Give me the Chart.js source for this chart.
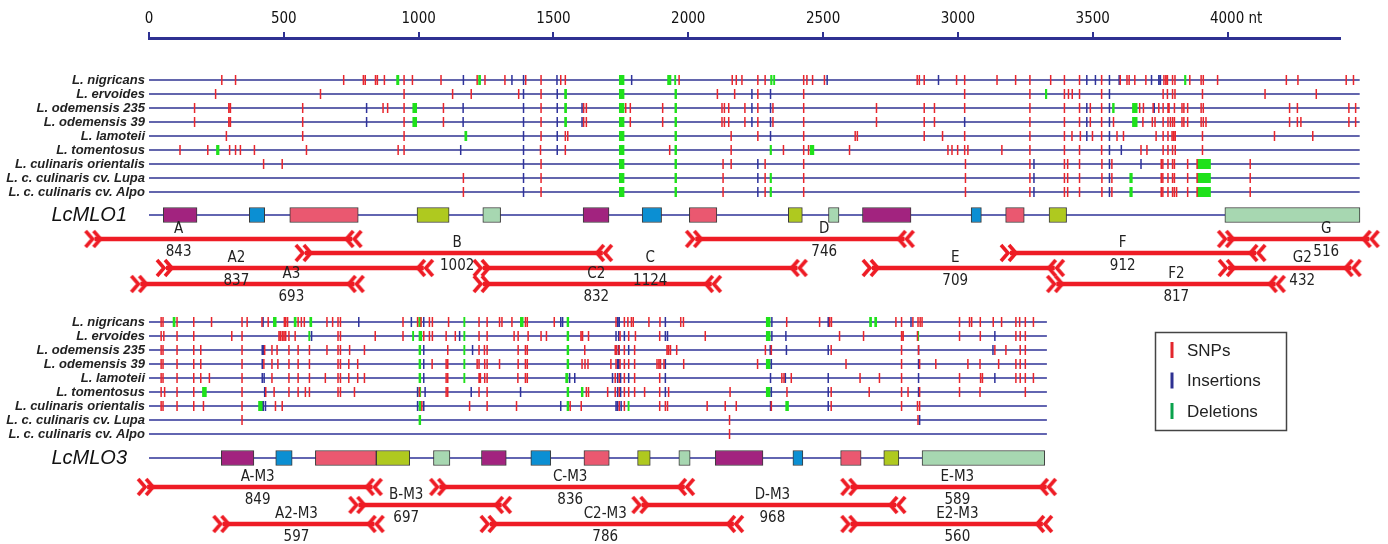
<!DOCTYPE html>
<html>
<head>
<meta charset="utf-8">
<script src="https://cdn.jsdelivr.net/npm/chart.js@4.4.1/dist/chart.umd.min.js"></script>
<style>
  html, body { margin: 0; padding: 0; background: #fff; }
  #wrap { width: 1388px; height: 544px; position: relative; }
</style>
</head>
<body>
<div id="wrap"><canvas id="myChart"></canvas></div>
<script>
// Row labels, top to bottom (same order in both panels)
var species = ['L. nigricans', 'L. ervoides', 'L. odemensis 235', 'L. odemensis 39', 'L. lamoteii',
  'L. tomentosus', 'L. culinaris orientalis', 'L. c. culinaris cv. Lupa', 'L. c. culinaris cv. Alpo'];
// Ticks of the nucleotide ruler
var rulerTicks = [0, 500, 1000, 1500, 2000, 2500, 3000, 3500, 4000];

// ---- LcMLO1 ----
var mlo1Length = 4490;
var mlo1Snps = [
  [270,321,722,795,802,840,847,873,946,977,1083,1217,1246,1320,1397,1454,1527,1544,1966,2163,2178,2199,2258,2285,2428,2440,2461,2505,2849,2857,2875,2995,3025,3145,3214,3267,3344,3395,3451,3533,3602,3627,3635,3656,3697,3764,3771,3777,3796,3805,3860,3902,3910,3963,4218,4261,4440,4467],
  [247,636,946,1126,1195,1371,1454,2108,2172,2258,2428,3025,3267,3395,3410,3424,3451,3533,3761,3777,3796,3805,3907,4139,4329],
  [169,296,302,570,868,885,946,1092,1454,1612,1622,1768,1785,1905,2125,2134,2150,2210,2258,2314,2428,2698,2875,2913,3025,3267,3395,3451,3491,3533,3674,3688,3724,3745,3761,3779,3783,3803,3831,3838,3852,3902,3910,4230,4259,4450,4475],
  [169,296,302,570,946,1092,1454,1612,1622,1785,1905,2125,2134,2150,2210,2258,2314,2428,2698,2875,2913,3267,3395,3451,3491,3533,3577,3686,3721,3731,3761,3779,3788,3796,3803,3831,3838,3852,3902,3910,3920,4230,4259,4272,4450,4475],
  [287,570,946,1454,1544,1553,2159,2258,2428,2619,2627,2875,2943,3025,3267,3395,3423,3454,3499,3533,3590,3614,3735,3761,3779,3794,3800,3806,3907,4174,4316],
  [115,218,299,321,339,391,584,924,946,1452,1544,1931,2159,2353,2428,2446,2598,2963,2978,2999,3025,3037,3163,3267,3395,3451,3533,3679,3701,3761,3779,3796,3806,3907],
  [425,494,1454,2129,2159,2285,2428,3028,3267,3395,3407,3451,3534,3571,3754,3760,3779,3796,3803,3852,3887,4084],
  [1166,1454,2129,2285,2428,3028,3267,3395,3407,3451,3534,3571,3754,3760,3779,3796,3803,3852,3887,4084],
  [1166,1454,2129,2285,2428,3028,3267,3395,3407,3451,3534,3571,3754,3760,3779,3796,3803,3811,3852,3887,4084]
];
var mlo1Ins = [
  [1166,1346,1389,1513,1790,2515,2928,3478,3510,3562,3598,3718,3745,3751],
  [1389,1514,2236,2305,3562],
  [807,1165,1389,1514,1606,2236,2305,3478,3562,3728],
  [807,1165,1389,1514,1606,2236,2305,3025,3478,3562],
  [1389,1514,2305,3478,3562],
  [1156,1389,1514,3562,3606],
  [1389,2258,3282,3562,3679],
  [1389,2258,3282,3562],
  [1389,2258,3282,3562]
];
var mlo1Del = [
  [[917,928],[1221,1231],[1743,1763],[1922,1937],[1948,1955],[2304,2312],[2315,2322],[3839,3847]],
  [[1540,1550],[1743,1763],[1949,1958],[3323,3331]],
  [[977,994],[1540,1550],[1743,1763],[1949,1958],[3572,3581],[3646,3666]],
  [[977,994],[1540,1550],[1743,1763],[1949,1958],[3646,3666]],
  [[1170,1180],[1743,1763],[1949,1958]],
  [[249,261],[1743,1763],[1949,1958],[2302,2310],[2451,2467]],
  [[1743,1763],[1949,1958],[3887,3938]],
  [[1743,1763],[1949,1958],[2302,2310],[3636,3648],[3887,3938]],
  [[1743,1763],[1949,1958],[2302,2310],[3636,3648],[3887,3938]]
];
var mlo1ExonStart = [53,372,522,994,1238,1610,1829,2004,2371,2520,2646,3049,3177,3338,3990];
var mlo1ExonEnd = [178,429,776,1113,1304,1706,1901,2106,2423,2559,2826,3087,3246,3403,4491];
var mlo1Amplicons = ['A','B','A2','A3','C','C2','D','E','F','F2','G','G2'];
var mlo1AmpStart = [-202,578,63,-32,1238,1238,2026,2681,3193,3365,3999,4002];
var mlo1AmpEnd = [754,1683,1019,762,2405,2087,2802,3359,4106,4178,4526,4459];
var mlo1AmpSize = [843,1002,837,693,1124,832,746,709,912,817,516,432];
var mlo1AmpLabelAt = [110,1143,324,528,1859,1659,2504,2990,3611,3810,4366,4277];

// ---- LcMLO3 ----
var mlo3Length = 3330;
var mlo3Snps = [
  [45,52,104,166,232,345,364,419,442,502,507,514,553,565,576,660,681,701,710,942,996,1009,1040,1051,1111,1224,1254,1300,1309,1346,1396,1403,1503,1732,1763,1776,1789,1796,1854,1895,1972,1982,2365,2487,2524,2531,2770,2791,2833,2852,2860,2867,3006,3043,3051,3083,3131,3162,3215,3229,3250,3280],
  [45,55,104,166,307,345,482,488,495,501,507,519,542,701,710,839,942,1019,1040,1051,1102,1136,1224,1254,1354,1369,1406,1454,1474,1602,1608,1630,1747,1779,1804,1894,2063,2561,2650,2791,2797,2850,3006,3083,3215,3231,3250],
  [45,52,104,166,192,345,429,456,475,519,553,595,660,701,710,744,799,1108,1224,1244,1254,1369,1396,1403,1616,1729,1734,1744,1763,1801,1921,1927,1934,1957,2286,2308,2530,2791,2854,3137,3178,3231,3250],
  [45,52,104,166,192,345,426,456,478,519,553,595,701,710,741,774,1050,1102,1108,1217,1224,1245,1254,1300,1369,1396,1403,1606,1617,1628,1713,1732,1747,1763,1779,1801,1884,1891,1897,1910,1983,2257,2585,2791,2858,2918,3037,3082,3151,3215,3231,3250],
  [45,52,104,166,192,224,345,456,519,553,595,654,701,710,741,774,799,1102,1108,1224,1229,1245,1254,1368,1396,1403,1729,1744,1763,1801,1894,2347,2355,2382,2637,2709,2791,3006,3084,3091,3215,3231,3250,3280],
  [45,58,104,166,345,433,464,519,553,580,595,701,710,762,1003,1102,1108,1224,1254,1622,1630,1701,1729,1744,1763,1779,1801,1838,1894,1927,2155,2366,2530,2671,2791,2815,2858,3006,3082,3250],
  [45,52,104,166,202,345,469,494,1012,1189,1254,1363,1562,1603,1744,1763,1894,1915,1923,2070,2137,2178,2308,2530,2791,2850,2858],
  [345,2153,2852],
  [2153]
];
var mlo3Ins = [
  [423,778,973,1019,1527,1534,1738,1744,1915,2310,2519,2826],
  [603,1152,1732,1742,1763,1915,1923,2310,2362,3137],
  [420,424,1019,1200,1741,1779,2304,2364,2519,2854,3130],
  [420,1019,1738,1743,1915,2308,2854],
  [420,427,1019,1560,1579,1719,1738,1749,1779,1915,2305,2360,2519,2854,3137],
  [429,996,1024,1195,1378,1738,1749,1915,2308,2519,2854],
  [424,432,996,1019,1527,1732,1738,1751,2305,2519],
  [2858],
  []
];
var mlo3Del = [
  [[88,98],[460,473],[537,547],[595,605],[999,1009],[1166,1173],[1376,1389],[1549,1558],[2288,2305],[2671,2681],[2690,2700]],
  [[591,598],[976,983],[1000,1013],[1166,1173],[1549,1558],[2288,2305],[2849,2856]],
  [[1000,1009],[1166,1173],[1549,1558]],
  [[1000,1009],[1166,1173],[1549,1558],[2288,2305]],
  [[1000,1009],[1166,1173],[1544,1555]],
  [[197,214],[1000,1009],[1549,1558],[1602,1611],[2288,2305]],
  [[405,423],[1000,1009],[1549,1558],[1775,1782],[2360,2373]],
  [[1000,1009]],
  []
];
var mlo3ExonStart = [268,470,617,843,1055,1233,1416,1613,1812,1965,2100,2388,2565,2725,2867];
var mlo3ExonEnd = [389,531,843,967,1116,1325,1490,1707,1859,2007,2277,2425,2641,2781,3322];
var mlo3Amplicons = ['A-M3','B-M3','C-M3','D-M3','E-M3','A2-M3','C2-M3','E2-M3'];
var mlo3AmpStart = [-7,777,1077,1827,2602,273,1264,2602];
var mlo3AmpEnd = [829,1308,1987,2771,3329,836,2169,3315];
var mlo3AmpSize = [849,697,836,968,589,597,786,560];
var mlo3AmpLabelAt = [403,954,1562,2312,2998,547,1692,2998];

// ---- layout (vertical positions in y-scale units, styles) ----
var rowY1 = species.map(function (s, i) { return 42 + 14 * i; });
var geneY1 = 177;
var laneY1 = [201, 215, 230, 246];
var mlo1AmpLane = [0, 1, 2, 3, 2, 3, 0, 2, 1, 3, 0, 2];
var rowY2 = species.map(function (s, i) { return 284 + 14 * i; });
var geneY2 = 420;
var laneY2 = [449, 467, 486];
var mlo3AmpLane = [0, 1, 0, 1, 0, 2, 2, 2];

var exonColors = ['#a2237f', '#0b8fd3', '#ea5870', '#afc91f', '#a7d7b1'];
var RED = '#e8262d', BLUE = '#2f339b', GREEN = '#1fe11b', ARROW = '#ee1c25';
var narrowFont = '"Liberation Sans Narrow", "DejaVu Sans Condensed", "Liberation Sans", sans-serif';

// helpers turning the arrays into point lists (null breaks the line)
function hLines(items) {
  var pts = [];
  items.forEach(function (it) {
    pts.push({x: it[0], y: it[2]}, {x: it[1], y: it[2]}, {x: it[1], y: null});
  });
  return pts;
}
function vTicks(lists, rows, half) {
  var pts = [];
  lists.forEach(function (list, i) {
    list.forEach(function (v) {
      pts.push({x: v, y: rows[i] - half}, {x: v, y: rows[i] + half}, {x: v, y: null});
    });
  });
  return pts;
}
function delBlocks(lists, rows) {
  var items = [];
  lists.forEach(function (list, i) {
    list.forEach(function (d) { items.push([d[0], d[1], rows[i]]); });
  });
  return hLines(items);
}
function chevrons(dir) {
  var c = document.createElement('canvas');
  c.width = 24; c.height = 20;
  var g = c.getContext('2d');
  g.strokeStyle = ARROW; g.lineWidth = 3.6; g.lineJoin = 'miter';
  [3, 11].forEach(function (x0) {
    g.beginPath();
    if (dir > 0) { g.moveTo(x0, 2); g.lineTo(x0 + 7, 10); g.lineTo(x0, 18); }
    else { g.moveTo(24 - x0, 2); g.lineTo(17 - x0, 10); g.lineTo(24 - x0, 18); }
    g.stroke();
  });
  return c;
}

var tracks1 = hLines(rowY1.map(function (r) { return [0, mlo1Length, r]; }));
var tracks2 = hLines(rowY2.map(function (r) { return [0, mlo3Length, r]; }));
var backbones = hLines([[0, mlo1ExonEnd[mlo1ExonEnd.length - 1], geneY1], [0, mlo3ExonEnd[mlo3ExonEnd.length - 1], geneY2]]);

var exonData = [], exonFill = [];
mlo1ExonStart.forEach(function (s, i) { exonData.push({x: [s, mlo1ExonEnd[i]], y: geneY1}); exonFill.push(exonColors[i % 5]); });
mlo3ExonStart.forEach(function (s, i) { exonData.push({x: [s, mlo3ExonEnd[i]], y: geneY2}); exonFill.push(exonColors[i % 5]); });

var shafts = [], ampStarts = [], ampEnds = [];
mlo1Amplicons.forEach(function (n, i) {
  var y = laneY1[mlo1AmpLane[i]];
  shafts.push([mlo1AmpStart[i], mlo1AmpEnd[i], y]);
  ampStarts.push({x: mlo1AmpStart[i], y: y});
  ampEnds.push({x: mlo1AmpEnd[i], y: y});
});
mlo3Amplicons.forEach(function (n, i) {
  var y = laneY2[mlo3AmpLane[i]];
  shafts.push([mlo3AmpStart[i], mlo3AmpEnd[i], y]);
  ampStarts.push({x: mlo3AmpStart[i], y: y});
  ampEnds.push({x: mlo3AmpEnd[i], y: y});
});

var rowLabel = {};
rowY1.forEach(function (r, i) { rowLabel[r] = species[i]; });
rowY2.forEach(function (r, i) { rowLabel[r] = species[i]; });

var labelPlugin = {
  id: 'labelPlugin',
  afterDatasetsDraw: function (chart) {
    var ctx = chart.ctx, x = chart.scales.x, y = chart.scales.y;
    ctx.save();
    ctx.fillStyle = '#222';
    ctx.textAlign = 'center';
    ctx.textBaseline = 'middle';
    ctx.font = '15px ' + narrowFont;
    function amp(names, sizes, at, lanes, laneY) {
      names.forEach(function (n, i) {
        var px = x.getPixelForValue(at[i]);
        var py = y.getPixelForValue(laneY[lanes[i]]);
        ctx.fillText(n, px, py - 10);
        ctx.fillText(String(sizes[i]), px, py + 13);
      });
    }
    amp(mlo1Amplicons, mlo1AmpSize, mlo1AmpLabelAt, mlo1AmpLane, laneY1);
    amp(mlo3Amplicons, mlo3AmpSize, mlo3AmpLabelAt, mlo3AmpLane, laneY2);

    // gene names
    ctx.textAlign = 'right';
    ctx.font = 'italic 20px "Liberation Sans", Arial, sans-serif';
    ctx.fillStyle = '#111';
    ctx.fillText('LcMLO1', x.getPixelForValue(0) - 22, y.getPixelForValue(geneY1));
    ctx.fillText('LcMLO3', x.getPixelForValue(0) - 22, y.getPixelForValue(geneY2));

    // legend box
    var items = [['SNPs', '#e3262d'], ['Insertions', '#2e3192'], ['Deletions', '#0aa24c']];
    ctx.strokeStyle = '#444';
    ctx.lineWidth = 1.5;
    ctx.strokeRect(1155.5, 332.5, 131, 98);
    ctx.textAlign = 'left';
    ctx.font = '17px "Liberation Sans", Arial, sans-serif';
    ctx.fillStyle = '#222';
    items.forEach(function (it, i) {
      var cy = 350 + 30.5 * i;
      ctx.fillStyle = it[1];
      ctx.fillRect(1170.5, cy - 8, 3, 16);
      ctx.fillStyle = '#222';
      ctx.fillText(it[0], 1187, cy + 1);
    });
    ctx.restore();
  }
};

var ctx = document.getElementById('myChart');

var myChart = new Chart(ctx, {
  type: 'scatter',
  data: {
    datasets: [
      { type: 'line', data: tracks1, borderColor: '#6366ad', borderWidth: 2, pointRadius: 0, spanGaps: false, clip: false, order: 10 },
      { type: 'line', data: tracks2, borderColor: '#2f3398', borderWidth: 1.6, pointRadius: 0, spanGaps: false, clip: false, order: 10 },
      { type: 'line', data: backbones, borderColor: '#2f3398', borderWidth: 1.4, pointRadius: 0, spanGaps: false, clip: false, order: 9 },
      { type: 'bar', indexAxis: 'y', data: exonData, backgroundColor: exonFill, borderColor: '#3a3a3a',
        borderWidth: 1, borderSkipped: false, barThickness: 15, grouped: false, clip: false, order: 8 },
      { type: 'line', data: delBlocks(mlo1Del, rowY1).concat(delBlocks(mlo3Del, rowY2)), borderColor: GREEN,
        borderWidth: 10, borderCapStyle: 'butt', pointRadius: 0, spanGaps: false, clip: false, order: 7 },
      { type: 'line', data: vTicks(mlo1Ins, rowY1, 5).concat(vTicks(mlo3Ins, rowY2, 5)), borderColor: BLUE,
        borderWidth: 1.5, borderCapStyle: 'butt', pointRadius: 0, spanGaps: false, clip: false, order: 6 },
      { type: 'line', data: vTicks(mlo1Snps, rowY1, 5).concat(vTicks(mlo3Snps, rowY2, 5)), borderColor: RED,
        borderWidth: 1.5, borderCapStyle: 'butt', pointRadius: 0, spanGaps: false, clip: false, order: 5 },
      { type: 'line', data: hLines(shafts), borderColor: ARROW, borderWidth: 4.5, borderCapStyle: 'butt',
        pointRadius: 0, spanGaps: false, clip: false, order: 4 },
      { type: 'scatter', data: ampStarts, pointStyle: chevrons(1), pointRadius: 70, pointHoverRadius: 70, clip: false, order: 3 },
      { type: 'scatter', data: ampEnds, pointStyle: chevrons(-1), pointRadius: 70, pointHoverRadius: 70, clip: false, order: 3 }
    ]
  },
  options: {
    responsive: true,
    maintainAspectRatio: false,
    devicePixelRatio: 1,
    animation: false,
    events: [],
    layout: { padding: { left: 0, right: 48, top: 0, bottom: 0 }, autoPadding: false },
    plugins: { legend: { display: false }, tooltip: { enabled: false } },
    scales: {
      x: {
        type: 'linear', position: 'top', min: 0, max: 4417, offset: false,
        grid: { display: true, drawOnChartArea: false, drawTicks: true, tickLength: 6, color: '#2e3192', lineWidth: 2, offset: false },
        border: { display: true, color: '#2e3192', width: 3 },
        ticks: {
          autoSkip: false, maxRotation: 0, padding: 4, color: '#111',
          font: { family: narrowFont, size: 15 },
          callback: function (v) { return v === 4000 ? '    4000 nt' : String(v); }
        },
        afterBuildTicks: function (scale) { scale.ticks = rulerTicks.map(function (v) { return { value: v }; }); },
        afterFit: function (scale) { scale.height = 38; scale.paddingLeft = 0; scale.paddingRight = 0; }
      },
      y: {
        type: 'linear', position: 'left', min: 0, max: 506, reverse: true, offset: false,
        grid: { display: false, drawTicks: false, offset: false },
        border: { display: false },
        ticks: {
          autoSkip: false, padding: 4, color: '#222',
          font: { family: '"Liberation Sans", Arial, sans-serif', size: 13, style: 'italic', weight: 'bold' },
          callback: function (v) { return rowLabel[v] || ''; }
        },
        afterBuildTicks: function (scale) {
          scale.ticks = rowY1.concat(rowY2).map(function (v) { return { value: v }; });
        },
        afterFit: function (scale) { scale.width = 149; scale.paddingTop = 0; scale.paddingBottom = 0; }
      }
    }
  },
  plugins: [labelPlugin]
});
</script>
</body>
</html>
